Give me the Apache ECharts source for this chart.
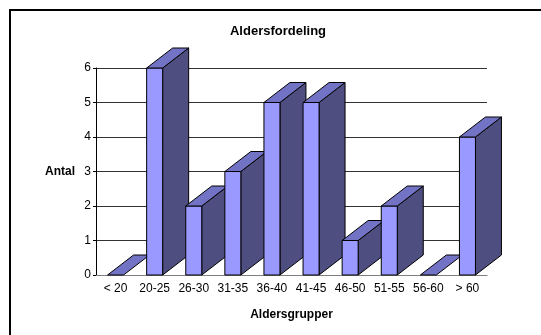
<!DOCTYPE html>
<html>
<head>
<meta charset="utf-8">
<script src="https://cdn.jsdelivr.net/npm/echarts@6/dist/echarts.min.js"></script>
<style>
  html, body { margin: 0; padding: 0; background: #fff; }
  #chart { width: 541px; height: 335px; }
</style>
</head>
<body>
<div id="chart"></div>
<script>
// Age groups and number of people in each
const categories = ['< 20', '20-25', '26-30', '31-35', '36-40', '41-45', '46-50', '51-55', '56-60', '> 60'];
const counts = [0, 6, 2, 3, 5, 5, 1, 2, 0, 4];
const yTicks = { min: 0, max: 6, interval: 1 };

const FONT = '"Liberation Sans", Arial, sans-serif';
const FRONT = '#9999FF';
const TOP = '#7373C6';
const SIDE = '#4E4E80';
const EDGE = '#000000';

// Column drawn as a box: front face, top face and right side face
function renderColumn(params, api) {
  const idx = api.value(0);
  const val = api.value(1);
  const base = api.coord([idx, 0]);
  const peak = api.coord([idx, val]);
  const half = 8;      // half width of the front face
  const dx = 26;       // depth offset to the right
  const dy = -20;      // depth offset upwards
  const xl = base[0] - half, xr = base[0] + half;
  const yb = base[1], yt = peak[1];
  const lineStyle = { stroke: EDGE, lineWidth: 1 };
  const children = [];
  if (val > 0) {
    children.push({
      type: 'polygon',
      shape: { points: [[xr, yb], [xr + dx, yb + dy], [xr + dx, yt + dy], [xr, yt]] },
      style: Object.assign({ fill: SIDE }, lineStyle)
    });
    children.push({
      type: 'polygon',
      shape: { points: [[xl, yb], [xr, yb], [xr, yt], [xl, yt]] },
      style: Object.assign({ fill: FRONT }, lineStyle)
    });
  }
  children.push({
    type: 'polygon',
    shape: { points: [[xl, yt], [xr, yt], [xr + dx, yt + dy], [xl + dx, yt + dy]] },
    style: Object.assign({ fill: TOP }, lineStyle)
  });
  return { type: 'group', children: children };
}

const chart = echarts.init(document.getElementById('chart'), null, { renderer: 'canvas' });
chart.setOption({
  animation: false,
  backgroundColor: '#fff',
  title: {
    text: 'Aldersfordeling',
    left: 273,
    textAlign: 'center',
    top: 20,
    textStyle: { fontFamily: FONT, fontSize: 13, fontWeight: 'bold', color: '#000' }
  },
  graphic: [{
    type: 'rect',
    shape: { x: 10, y: 10, width: 700, height: 500 },
    style: { fill: 'none', stroke: '#000', lineWidth: 2 },
    silent: true
  }],
  grid: { left: 96, top: 68, width: 391, height: 207 },
  xAxis: {
    type: 'category',
    data: categories,
    boundaryGap: true,
    name: 'Aldersgrupper',
    nameLocation: 'middle',
    nameGap: 34,
    nameTextStyle: { fontFamily: FONT, fontSize: 12, fontWeight: 'bold', color: '#000' },
    axisLine: { show: true, lineStyle: { color: '#808080', width: 1 } },
    axisTick: { show: false },
    axisLabel: { fontFamily: FONT, fontSize: 12, color: '#000', margin: 8, interval: 0 },
    splitLine: { show: false }
  },
  yAxis: {
    type: 'value',
    min: yTicks.min,
    max: yTicks.max,
    interval: yTicks.interval,
    name: 'Antal',
    nameLocation: 'middle',
    nameRotate: 0,
    nameGap: 21,
    nameTextStyle: { fontFamily: FONT, fontSize: 12, fontWeight: 'bold', color: '#000', align: 'right' },
    axisLine: { show: true, lineStyle: { color: '#000', width: 1 } },
    axisTick: { show: true, length: 3, lineStyle: { color: '#000' } },
    axisLabel: { fontFamily: FONT, fontSize: 12, color: '#000', margin: 5 },
    splitLine: { show: true, lineStyle: { color: '#333333', width: 1 } }
  },
  series: [{
    type: 'custom',
    renderItem: renderColumn,
    clip: false,
    encode: { x: 0, y: 1 },
    data: counts.map((v, i) => [i, v]),
    z: 5
  }]
});
</script>
</body>
</html>
